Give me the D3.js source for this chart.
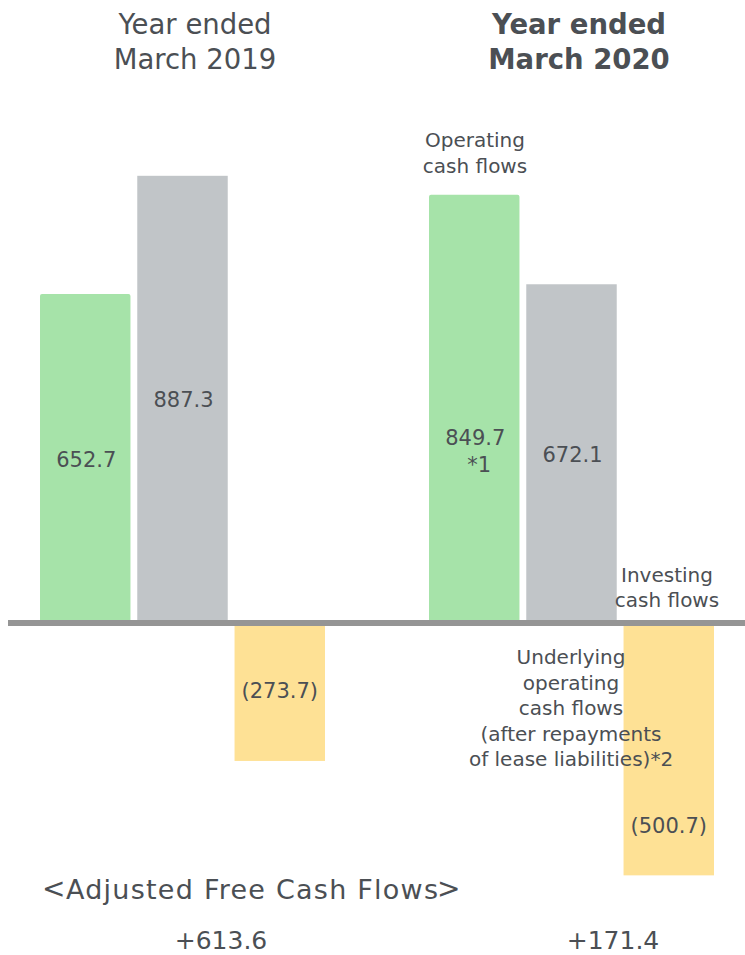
<!DOCTYPE html>
<html>
<head>
<meta charset="utf-8">
<script src="https://cdn.jsdelivr.net/npm/d3@7"></script>
<style>
  html, body { margin: 0; padding: 0; background: #fff; }
  svg { display: block; }
  text { font-family: "DejaVu Sans", Verdana, sans-serif; fill: #4b4f54; }
</style>
</head>
<body>
<svg id="chart" width="745" height="955"></svg>
<script>
// ---- data ----
const years = ["March 2019", "March 2020"];
const categories = ["Operating cash flows", "Underlying operating cash flows", "Investing cash flows"];
const values2019 = [652.7, 887.3, -273.7];
const values2020 = [849.7, 672.1, -500.7];
const valueLabels2019 = ["652.7", "887.3", "(273.7)"];
const valueLabels2020 = ["849.7", "672.1", "(500.7)"];
const adjustedFCF = ["+613.6", "+171.4"];

// ---- layout ----
const colors = ["#a6e3a9", "#c1c5c8", "#fee195"];
const W = 745, H = 955;
const svg = d3.select("#chart");

const x0 = d3.scaleBand().domain(years).range([40, 818]).padding(0);
const x1 = d3.scaleBand().domain(categories).range([0, 285]).paddingInner(0.07);
const k = 0.504, zeroY = 623;
const y = d3.scaleLinear().domain([-600, 900]).range([zeroY + k * 600, zeroY - k * 900]);

const table = [];
years.forEach((yr, i) => {
  const vals = i === 0 ? values2019 : values2020;
  const labs = i === 0 ? valueLabels2019 : valueLabels2020;
  categories.forEach((c, j) => table.push({ year: yr, cat: c, j, v: vals[j], label: labs[j] }));
});

// label vertical offsets relative to bar middle (layout only)
const labelDy = {
  "March 2019": [8.5, 7.6, 6],
  "March 2020": [36, 8.3, 84]
};

// bars
svg.append("g").selectAll("rect").data(table).join("rect")
  .attr("x", d => x0(d.year) + x1(d.cat))
  .attr("width", x1.bandwidth())
  .attr("y", d => Math.min(y(0), y(d.v)))
  .attr("height", d => Math.abs(y(d.v) - y(0)))
  .attr("rx", d => d.j === 0 ? 2 : 0)
  .attr("fill", d => colors[d.j]);

// baseline
svg.append("line")
  .attr("x1", 8).attr("x2", W)
  .attr("y1", y(0)).attr("y2", y(0))
  .attr("stroke", "#959595").attr("stroke-width", 6);

// value labels
svg.append("g").selectAll("text").data(table).join("text")
  .attr("x", d => x0(d.year) + x1(d.cat) + x1.bandwidth() / 2 + (d.j === 2 ? 0 : 1))
  .attr("y", d => y(d.v / 2) + labelDy[d.year][d.j])
  .attr("text-anchor", "middle")
  .attr("font-size", 21)
  .text(d => d.label);

// *1 note
const g20 = table.find(d => d.year === "March 2020" && d.j === 0);
svg.append("text")
  .attr("x", x0(g20.year) + x1(g20.cat) + x1.bandwidth() / 2 + 5)
  .attr("y", y(g20.v / 2) + 63)
  .attr("text-anchor", "middle").attr("font-size", 21)
  .text("*1");

// year titles
years.forEach((yr, i) => {
  const cx = i === 0 ? 195 : 579;
  const t = svg.append("text")
    .attr("x", cx).attr("text-anchor", "middle")
    .attr("font-size", 27.5)
    .attr("font-weight", i === 1 ? "bold" : "normal");
  t.append("tspan").attr("x", cx).attr("y", 34).text("Year ended");
  t.append("tspan").attr("x", cx).attr("y", 69).text(yr);
});

// category annotations
function multi(lines, cx, y0, lh, size) {
  const t = svg.append("text").attr("text-anchor", "middle").attr("font-size", size);
  lines.forEach((l, i) => t.append("tspan").attr("x", cx).attr("y", y0 + i * lh).text(l));
}
multi(["Operating", "cash flows"], 475, 147, 25.5, 20);
multi(["Investing", "cash flows"], 667, 582, 25, 20);
multi(["Underlying", "operating", "cash flows", "(after repayments", "of lease liabilities)*2"], 571, 664, 25.5, 20);

// Adjusted FCF
svg.append("text").attr("x", 42).attr("y", 898).attr("font-size", 28).text("<");
svg.append("text").attr("x", 66).attr("y", 899).attr("font-size", 27)
  .attr("textLength", 372).attr("lengthAdjust", "spacing")
  .text("Adjusted Free Cash Flows");
svg.append("text").attr("x", 437).attr("y", 898).attr("font-size", 28).text(">");
svg.append("g").selectAll("text").data(adjustedFCF).join("text")
  .attr("x", (d, i) => i === 0 ? 221 : 613)
  .attr("y", 949)
  .attr("text-anchor", "middle").attr("font-size", 25)
  .text(d => d);
</script>
</body>
</html>
